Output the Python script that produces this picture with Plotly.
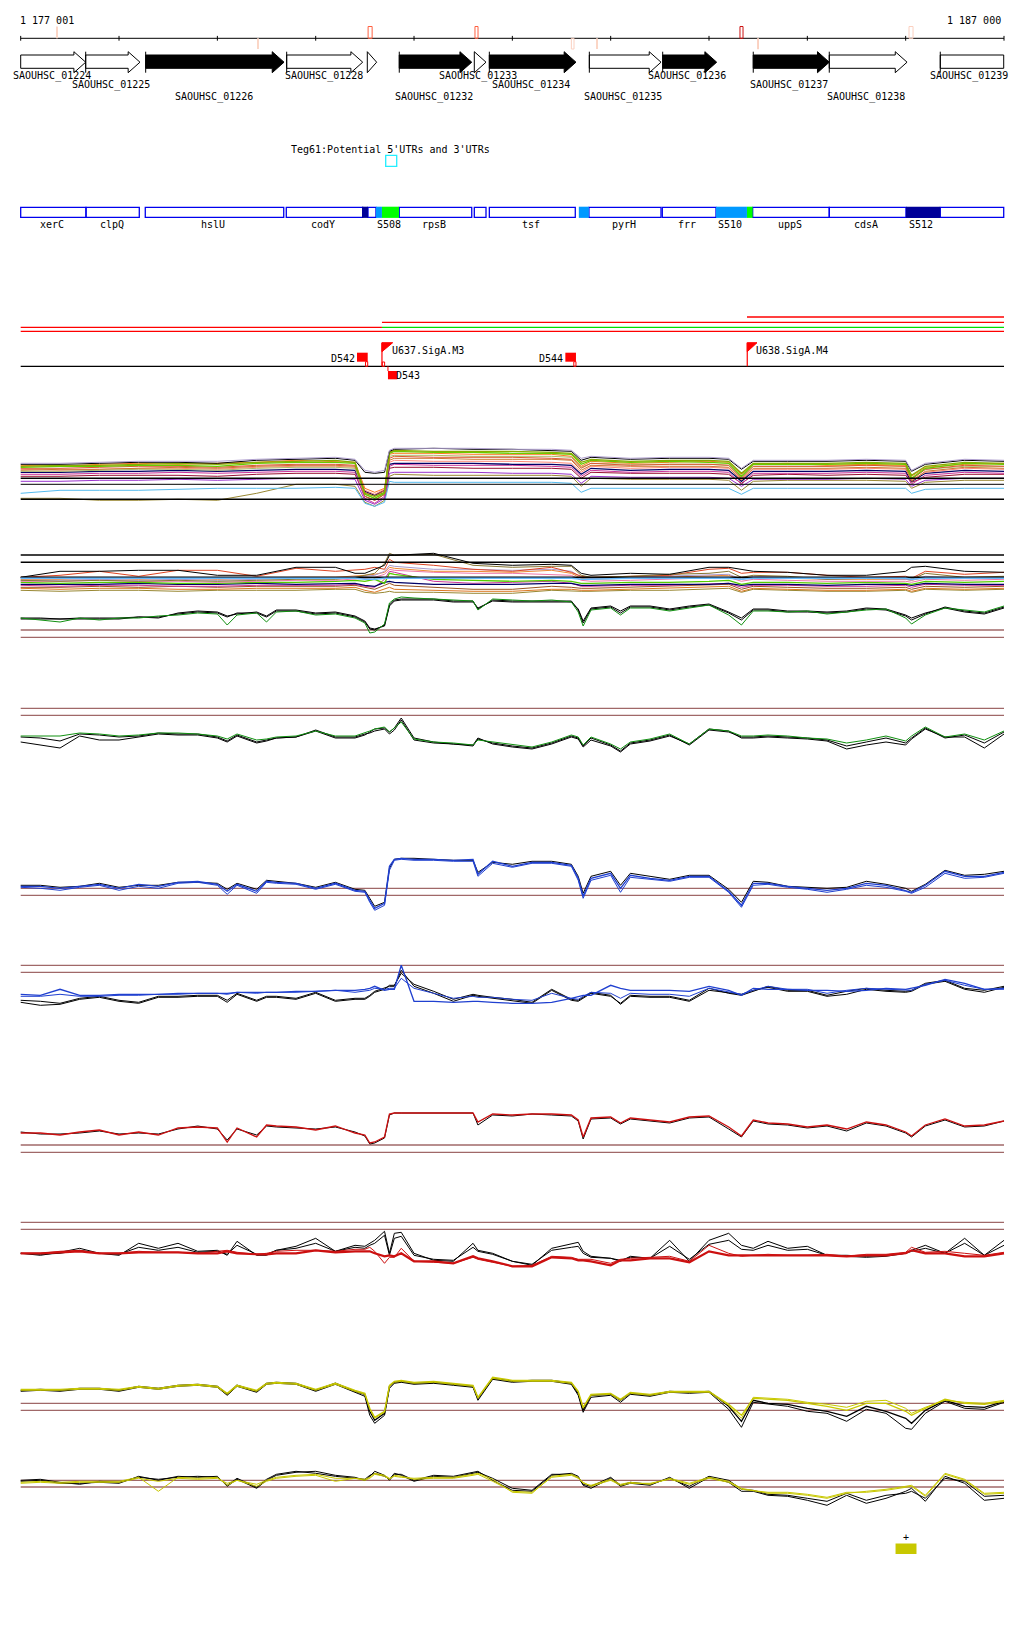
import plotly.graph_objects as go

START_BP = 1177000  # genomic origin of the window (bp); x data are kb offsets

# ---------------- scale bar ----------------
scale_left_label = "1 177 001"
scale_right_label = "1 187 000"
tick_kb = [0, 1, 2, 3, 4, 5, 6, 7, 8, 9, 10]
mark_start = [0.369, 2.413, 3.533, 4.620, 5.600, 5.861, 7.315, 7.494, 9.034]
mark_end = [0.369, 2.413, 3.574, 4.651, 5.627, 5.861, 7.346, 7.503, 9.075]
mark_side = ['up', 'down', 'up', 'up', 'down', 'down', 'up', 'down', 'up']
mark_color = ['#fbd6c6', '#fbd6c6', '#ff6040', '#ff6040', '#fbd0c0', '#fbd6c6', '#cc1111', '#fbd0c0', '#fbd0c0']

# ---------------- genes (arrows) ----------------
gene_label = ["SAOUHSC_01224", "SAOUHSC_01225", "SAOUHSC_01226", "SAOUHSC_01228", "",
              "SAOUHSC_01232", "SAOUHSC_01233", "SAOUHSC_01234", "SAOUHSC_01235", "SAOUHSC_01236",
              "SAOUHSC_01237", "SAOUHSC_01238", "SAOUHSC_01239"]
gene_start = [0.0, 0.661, 1.271, 2.705, 3.525, 3.850, 4.613, 4.766, 5.783, 6.529, 7.450, 8.223, 9.352]
gene_end = [0.661, 1.213, 2.678, 3.478, 3.620, 4.587, 4.732, 5.647, 6.512, 7.078, 8.223, 9.014, 9.997]
gene_filled = [False, False, True, False, False, True, False, True, False, True, True, False, False]
gene_head = [True, True, True, True, True, True, True, True, True, True, True, True, False]
gene_bar = [False, True, True, True, False, True, False, True, True, True, True, True, True]
gene_label_kb = [0.318, 0.921, 1.963, 3.081, 0, 4.208, 4.651, 5.190, 6.128, 6.779, 7.813, 8.601, 9.646]
gene_label_row = [0, 1, 2, 0, 0, 2, 0, 1, 2, 0, 1, 2, 0]

teg_label = "Teg61:Potential 5'UTRs and 3'UTRs"
teg_box = (3.712, 3.824)

# ---------------- annotation boxes ----------------
box_start = [0.0, 0.664, 1.267, 2.701, 3.532, 3.850, 4.613, 4.766, 5.779, 6.525, 7.444, 8.223, 9.352]
box_end = [0.664, 1.206, 2.675, 3.478, 3.613, 4.587, 4.732, 5.640, 6.512, 7.071, 8.223, 9.003, 9.997]
fill_start = [3.471, 3.613, 3.674, 5.676, 7.071, 7.386, 9.003]
fill_end = [3.532, 3.674, 3.847, 5.778, 7.386, 7.444, 9.352]
fill_color = ['#000099', '#0099ff', '#00ff00', '#0099ff', '#0099ff', '#00ff00', '#000099']
box_labels = ['xerC', 'clpQ', 'hslU', 'codY', 'S508', 'rpsB', 'tsf', 'pyrH', 'frr', 'S510', 'uppS', 'cdsA', 'S512']
box_label_kb = [0.321, 0.925, 1.959, 3.071, 3.748, 4.206, 5.190, 6.132, 6.776, 7.217, 7.821, 8.600, 9.159]

# ---------------- transcription units ----------------
tu_start = [7.386, 3.674, 0.0, 3.674, 0.0]
tu_end = [10.0, 10.0, 3.674, 10.0, 10.0]
tu_row = [0, 1, 2, 2, 3]
tu_color = ['#ff0000', '#ff0000', '#ff0000', '#00dd00', '#ff0000']

# ---------------- promoters / terminators ----------------
term_names = ['D542', 'D544', 'D543']
term_start = [3.420, 5.539, 3.735]
term_end = [3.529, 5.647, 3.830]
term_side = ['up', 'up', 'down']
prom_names = ['U637.SigA.M3', 'U638.SigA.M4']
prom_kb = [3.674, 7.389]
prom_flag_end = [3.783, 7.488]

# ---------------- signal tracks (values on grid G, kb) ----------------
G = [0, 0.2, 0.4, 0.6, 0.8, 1.0, 1.2, 1.4, 1.6, 1.8, 2.0, 2.1, 2.2, 2.4, 2.5, 2.6, 2.8, 3.0, 3.2, 3.4,
     3.5, 3.55, 3.6, 3.7, 3.75, 3.8, 3.87, 4.0, 4.2, 4.4, 4.6, 4.65, 4.8, 5.0, 5.2, 5.4, 5.6, 5.67, 5.72, 5.8,
     6.0, 6.1, 6.2, 6.4, 6.6, 6.8, 7.0, 7.2, 7.33, 7.45, 7.6, 7.8, 8.0, 8.2, 8.4, 8.6, 8.8, 9.0, 9.06, 9.2,
     9.4, 9.6, 9.8, 10.0]

k2 = [11,11,11,11,11, 11,13,13,16,18, 17,13,17,17,13, 19,19,16,17,13, 8,1,0,5,25, 30,31,31,31,29, 29,21,30,29,29, 29,29,20,7,21, 23,17,23,23,20, 23,25,17,10,20, 20,18,18,17,18, 21,20,14,10,16, 23,19,17,23]
k2b = [12,12,11,12,12, 12,13,12,17,19, 18,14,16,18,14, 20,20,17,18,14, 9,2,1,4,24, 29,30,30,30,28, 28,22,29,28,28, 28,28,21,9,22, 24,19,24,24,21, 24,26,18,12,21, 21,19,19,18,19, 22,21,15,12,17, 22,18,16,22]
g2 = [12,10,8,12,10, 12,12,14,15,17, 16,5,15,17,8, 18,19,15,16,12, 7,-3,-2,6,27, 31,33,32,31,30, 29,20,31,30,29, 30,28,18,4,20, 22,15,22,22,19, 22,25,15,5,19, 19,18,19,16,18, 20,21,12,6,15, 22,20,18,24]

k3 = [-7,-8,-11,-4,-5, -7,-6,-3,-4,-4, -7,-11,-5,-12,-10, -8,-7,0,-7,-7, -4,-3,-1,1,-4, 0,10,-10,-13,-14, -16,-9,-13,-16,-18, -13,-6,-8,-16,-8, -15,-21,-13,-10,-5, -15,0,-2,-7,-7, -6,-7,-8,-10,-16, -12,-8,-13,-8,2, -8,-5,-13,-2]
k3b = [-12,-15,-18,-6,-10, -10,-7,-4,-5,-5, -8,-12,-6,-13,-11, -8,-7,-1,-8,-8, -5,-2,1,2,-2, 2,12,-8,-12,-14, -15,-8,-14,-17,-19, -14,-7,-9,-17,-10, -16,-22,-14,-11,-6, -14,1,-1,-8,-8, -7,-8,-9,-11,-19, -15,-12,-15,-9,1, -7,-7,-18,-4]
g3 = [-6,-6,-6,-3,-4, -6,-5,-3,-3,-4, -6,-9,-4,-10,-9, -7,-6,-1,-6,-6, -3,-1,1,3,-2, 2,8,-9,-12,-13, -15,-10,-12,-15,-17, -12,-5,-7,-15,-7, -14,-19,-12,-9,-4, -14,1,-1,-6,-6, -5,-6,-8,-9,-13, -10,-6,-11,-6,3, -7,-4,-10,-1]

b4 = [2,2,0,2,4, 0,4,2,6,7, 4,-3,4,-3,7, 6,5,0,5,-2, -3,-12,-20,-15,22, 29,30,29,29,28, 29,14,27,22,26, 26,23,10,-8,10, 15,0,13,10,8, 12,12,-3,-17,5, 5,2,0,-2,0, 5,3,-2,-4,3, 17,12,12,16]
k4 = [3,3,1,2,5, 1,3,3,6,6, 5,-1,5,-1,8, 7,5,1,6,-1, -2,-10,-18,-14,20, 29,30,30,29,28, 28,16,26,24,27, 27,24,12,-5,12, 17,3,15,12,9, 13,13,-1,-14,7, 6,2,1,0,1, 7,4,0,-3,4, 18,13,14,17]
b4b = [1,0,-2,1,3, -2,2,0,5,6, 3,-6,3,-5,6, 5,4,-1,4,-3, -4,-14,-22,-17,18, 28,29,28,28,27, 27,12,25,21,25, 25,22,8,-10,8, 13,-4,11,9,7, 11,11,-4,-19,3, 4,1,-1,-4,-1, 3,1,-3,-5,1, 15,10,11,15]

k5 = [-7,-8,-10,-5,-3, -7,-9,-3,-3,-2, -2,-7,0,-7,-3, -3,-5,1,-7,-5, -5,-2,2,5,7, 7,23,7,0,-8, -2,-3,-5,-7,-10, 3,-7,-8,-5,0, -3,-10,-2,-3,-3, -7,5,0,-2,2, 7,3,3,-2,2, 5,3,2,3,10, 13,5,3,7]
k5b = [-9,-12,-11,-6,-4, -8,-10,-4,-4,-3, -3,-9,-1,-8,-4, -4,-6,0,-8,-6, -6,-3,1,4,8, 8,20,9,2,-6, -1,-2,-4,-6,-9, 4,-6,-7,-4,1, -2,-11,-3,-4,-4, -8,3,1,-1,3, 6,2,2,-3,-1, 4,2,1,2,9, 12,4,1,6]
b5a = [-1,-2,4,-2,-2, -1,-1,-1,0,0, 0,0,1,1,1, 1,2,2,3,3, 4,5,7,3,4, 4,28,-8,-8,-9, -8,-8,-9,-10,-10, -9,-5,-3,-2,-2, 8,5,3,3,3, 2,7,3,-2,5, 4,4,3,3,2, 3,5,4,5,8, 14,10,4,5]
b5b = [-3,-3,-1,-3,-3, -2,-2,-1,-1,0, 0,-1,1,0,1, 1,1,2,3,1, 2,3,5,4,5, 5,15,5,0,-5, -3,-4,-4,-6,-7, 0,-5,-6,-3,1, 0,-5,0,-1,-1, -3,5,1,-1,3, 7,4,4,0,3, 5,4,3,3,9, 13,8,4,4]

r6 = [12,12,10,13,15, 10,13,10,17,18, 17,3,17,8,20, 19,18,15,19,12, 10,2,3,8,31, 32,32,32,32,32, 32,23,31,30,31, 31,30,25,8,27, 28,22,27,25,23, 28,29,18,9,25, 22,21,18,20,16, 23,20,13,9,20, 26,19,20,24]
k6 = [13,11,11,12,14, 11,12,11,16,19, 16,5,16,10,19, 18,17,16,18,13, 9,1,2,7,30, 32,32,32,32,32, 32,20,30,29,31, 30,29,24,6,26, 27,21,26,24,22, 27,28,16,8,24, 21,20,17,19,14, 22,19,12,8,19, 25,18,19,24]

k7 = [0,-2,1,5,0, -2,10,5,10,2, 3,-2,12,-2,-2, 3,7,15,2,8, 7,10,13,22,0, 20,21,0,-7,-8, 10,3,0,-8,-12, 5,10,11,2,-3, -5,-8,-3,-5,13, -8,13,20,8,5, 12,5,7,-2,-2, -3,-2,0,3,8, 0,15,-2,13]
k7b = [0,-1,0,3,0, -1,6,3,6,1, 2,-1,8,-1,-1, 3,5,10,2,6, 5,8,10,18,-2, 15,17,-2,-6,-7, 6,2,-1,-8,-11, 3,6,7,0,-4, -5,-7,-4,-5,7, -6,9,13,4,3, 8,3,4,-2,-3, -4,-3,0,2,5, 0,10,-2,8]
r7 = [0,0,1,2,0, 0,1,1,1,0, 0,2,0,-1,-1, 0,0,3,1,2, 2,2,0,-3,-2, -3,0,-8,-8,-10, -3,-5,-8,-13,-13, -4,-5,-7,-7,-8, -12,-7,-7,-5,-5, -9,2,-2,-2,-2, -2,-2,-2,-2,-3, -2,-2,0,3,0, 0,-3,-3,0]
r7b = [0,0,2,3,0, 0,2,1,1,0, 2,3,1,-1,0, 2,3,3,2,4, 4,6,2,-10,-4, -4,5,-8,-9,-10, -4,-6,-9,-13,-12, -3,-4,-6,-6,-6, -10,-6,-5,-4,-3, -8,8,0,-3,-2, -1,-2,-2,-1,-3, -1,-1,1,6,1, 2,0,-2,1]

k8 = [13,14,13,15,15, 13,17,15,18,19, 17,9,18,12,20, 21,20,13,20,12, 9,-8,-17,-10,17, 21,22,20,21,19, 17,5,25,22,23, 23,20,10,-7,8, 9,3,10,8,12, 11,12,-3,-18,3, 0,-1,-5,-8,-13, -3,-8,-15,-20,-7, 3,-3,-4,2]
k8b = [12,13,12,14,14, 12,16,14,17,18, 16,8,17,11,19, 20,19,12,19,11, 7,-12,-20,-12,15, 20,21,19,20,18, 16,3,24,21,22, 22,19,8,-9,6, 8,1,9,7,11, 10,11,-6,-24,1, -1,-3,-8,-10,-18, -6,-10,-25,-26,-10, 2,-5,-6,1]
y8 = [14,14,14,15,15, 14,17,15,18,19, 17,10,18,13,20, 21,20,14,20,13, 10,-5,-14,-8,18, 22,23,21,22,20, 18,6,26,23,23, 23,21,12,-4,9, 10,4,11,9,12, 12,12,-1,-12,5, 4,3,0,-3,-7, 0,0,-8,-12,-5, 4,0,-1,2]
y8b = [13,13,13,14,14, 13,16,14,17,18, 16,9,17,12,19, 20,19,13,19,12, 9,-6,-15,-9,17, 21,22,20,21,19, 17,5,25,22,22, 22,20,11,-5,8, 9,3,10,8,11, 11,11,-2,-15,6, 5,4,1,-1,-4, 2,3,-5,-10,-4, 3,1,0,3]

k9 = [2,3,0,0,1, 0,7,3,7,6, 7,-3,4,-5,3, 8,11,12,8,6, 3,7,12,8,3, 9,9,3,8,7, 11,12,3,-7,-8, 8,10,7,-2,-5, 5,-3,0,-2,6, -5,6,1,-8,-8, -12,-13,-17,-22,-12, -20,-15,-8,-5,-18, 7,0,-17,-15]
k9b = [3,4,1,-1,2, 1,6,4,6,7, 6,-2,5,-4,4, 9,12,10,7,5, 4,8,10,7,4, 10,8,2,7,6, 10,11,5,-5,-7, 9,9,6,-1,-3, 6,-2,1,-1,5, -3,7,3,-6,-7, -11,-12,-15,-18,-10, -17,-12,-10,-8,-15, 5,2,-13,-12]
y9 = [1,2,1,2,2, 2,6,-8,6,5, 6,-2,3,-3,2, 5,7,8,2,5, 4,6,10,8,5, 7,6,5,6,6, 9,10,4,-9,-10, 7,9,6,0,-2, 4,-1,1,-1,5, 0,6,2,-5,-7, -10,-10,-12,-15,-10, -8,-6,-3,-2,-12, 10,4,-10,-9]
y9b = [0,1,0,1,1, 1,5,2,5,4, 5,0,3,-1,3, 6,8,9,5,5, 3,5,9,7,4, 8,7,4,5,5, 8,9,2,-8,-9, 6,8,5,1,-3, 3,-2,0,0,4, -1,5,1,-6,-7, -9,-9,-11,-14,-9, -9,-7,-4,-3,-13, 9,3,-11,-10]

# ---------------- multi-sample tracks (values on grid M, kb) ----------------
M = [0, 0.4, 0.8, 1.2, 1.6, 2.0, 2.4, 2.8, 3.2, 3.4, 3.5, 3.6, 3.7, 3.75, 3.8, 4.2, 4.6, 5.0, 5.4, 5.6,
     5.7, 5.8, 6.2, 6.6, 7.0, 7.2, 7.33, 7.45, 7.8, 8.2, 8.6, 9.0, 9.06, 9.2, 9.6, 10.0]

m1_lavender = [15,15,16,17,17, 17,19,20,21,19, 8,6,8,28,30, 30,30,29,29,28, 20,22,20,21,21, 20,10,18,18,18, 19,18,8,15,19, 18]
m1_black = [14,14,15,16,16, 15,18,19,20,18, 6,5,6,27,29, 30,29,29,28,27, 18,21,19,20,20, 19,9,17,17,17, 18,17,7,14,18, 17]
m1_olive = [12,13,13,14,15, 14,16,17,18,16, -15,-18,-14,26,28, 27,27,27,26,25, 16,19,17,18,18, 17,5,15,15,15, 16,15,3,12,16, 15]
m1_green = [11,12,12,13,13, 12,15,16,16,15, -16,-20,-15,25,27, 26,26,25,25,24, 14,18,16,17,16, 15,2,14,14,14, 15,14,0,10,15, 14]
m1_orange = [13,12,14,15,14, 15,16,18,17,16, -10,-14,-10,24,25, 25,24,24,24,22, 12,17,15,16,17, 16,4,14,15,13, 14,13,2,11,14, 15]
m1_redorange = [10,10,11,12,12, 11,13,14,14,13, -14,-18,-12,20,22, 21,21,21,20,19, 10,15,13,14,14, 13,0,12,12,12, 13,12,-1,9,13, 12]
m1_brownorange = [8,9,9,10,11, 10,12,13,13,12, -18,-22,-16,18,20, 20,19,19,19,18, 8,13,12,12,12, 11,-2,10,10,10, 11,10,-3,7,11, 10]
m1_salmon = [9,8,9,10,10, 9,11,12,12,11, -12,-16,-11,16,18, 17,17,17,16,15, 6,12,10,11,11, 10,-1,9,9,9, 10,9,-2,6,10, 9]
m1_magenta = [4,4,5,5,6, 5,6,7,7,6, -20,-25,-18,12,14, 13,13,13,12,11, 2,8,6,7,7, 6,-6,5,5,5, 6,5,-6,3,6, 5]
m1_darkred = [2,2,3,3,3, 2,4,5,5,4, -18,-22,-16,10,11, 11,10,10,10,9, 0,6,5,5,5, 4,-5,3,4,3, 4,3,-4,1,4, 4]
m1_navy = [6,6,7,7,8, 7,8,9,9,8, -13,-17,-12,14,15, 15,15,14,14,13, 4,10,8,9,9, 8,-3,7,7,7, 8,7,-3,5,8, 7]
m1_purple = [-3,-3,-2,-2,-1, -2,-1,0,0,-1, -22,-26,-20,5,6, 6,6,5,5,4, -5,2,1,1,1, 0,-8,-1,-1,-1, 0,-1,-8,-2,0, 0]
m1_lightblue = [-15,-12,-12,-12,-11, -10,-10,-10,-9,-10, -25,-28,-24,-3,-4, -4,-4,-4,-4,-5, -14,-10,-10,-10,-10, -10,-16,-10,-10,-10, -10,-10,-15,-11,-10, -10]
m1_olivebrown = [-20,-20,-22,-22,-21, -22,-15,-6,-6,-8, -24,-28,-22,2,4, 3,3,3,3,2, -8,0,-1,-1,-1, -2,-12,-3,-2,-2, -2,-3,-10,-4,-2, -2]
m1_graygreen = [7,7,8,9,9, 8,10,11,11,10, -16,-20,-14,22,23, 23,22,22,22,21, 11,15,14,14,14, 13,1,12,12,12, 13,12,-1,9,12, 12]
m1_ref_levels = [0, -6, -21]

m2_black = [0,6,6,7,7, 2,2,10,10,4, 4,8,12,22,22, 24,14,12,13,12, 4,2,4,3,10, 10,8,6,5,2, 2,6,10,11,6, 5]
m2_olive = [-3,-4,-3,-4,-3, -4,-3,-2,-2,0, 2,4,14,24,22, 23,12,10,11,11, 2,0,1,3,4, 6,0,2,1,-2, -1,-1,-2,4,0, 1]
m2_redorange = [0,2,6,1,7, 7,1,9,6,7, 8,10,8,18,15, 12,8,6,10,5, 1,0,1,2,8, 9,4,5,5,2, 0,1,-1,6,3, 5]
m2_orange = [-2,-2,-1,-2,-1, -2,-1,0,0,1, 2,3,5,10,9, 6,6,5,7,4, -1,-2,-1,0,1, 2,-2,0,-1,-2, -2,-2,-3,0,-1, 0]
m2_pink = [-4,-4,-3,-4,-4, -5,-4,-3,-3,-2, -1,0,3,8,7, 5,4,4,3,2, -3,-4,-3,-2,-1, 0,-4,-2,-3,-4, -4,-4,-5,-2,-3, -2]
m2_green = [-5,-6,-5,-5,-6, -6,-5,-5,-4,-3, -4,-2,-6,4,3, -2,-3,-4,-3,-4, -6,-6,-5,-5,-4, -3,-7,-5,-5,-6, -5,-6,-7,-4,-5, -4]
m2_navy = [-7,-7,-7,-6,-7, -7,-6,-7,-6,-6, -8,-9,-5,-4,-5, -7,-7,-7,-6,-6, -8,-8,-7,-7,-7, -6,-8,-7,-7,-8, -7,-7,-8,-6,-7, -7]
m2_lightblue = [-1,-1,-1,-1,-1, -1,-1,-1,-1,-1, -2,-2,-1,-1,-1, -1,-1,-1,-1,-1, -2,-2,-1,-1,-1, -1,-2,-1,-1,-1, -1,-1,-2,-1,-1, -1]
m2_magenta = [-8,-9,-8,-8,-9, -9,-8,-8,-8,-7, -9,-10,-2,6,5, -4,-6,-5,-4,-6, -9,-9,-8,-8,-7, -6,-10,-8,-8,-9, -9,-8,-10,-7,-8, -8]
m2_brown = [-10,-10,-9,-10,-9, -10,-9,-9,-9,-8, -10,-12,-8,-6,-8, -10,-12,-12,-9,-10, -11,-11,-10,-9,-8, -7,-12,-9,-10,-11, -11,-10,-12,-9,-10, -9]
m2_orangebottom = [-11,-12,-11,-11,-12, -12,-11,-11,-11,-10, -13,-15,-12,-10,-12, -13,-14,-14,-12,-12, -13,-13,-12,-11,-10, -9,-14,-11,-12,-13, -13,-12,-14,-11,-12, -11]
m2_olivebottom = [-13,-14,-13,-13,-14, -13,-13,-13,-12,-12, -15,-16,-15,-14,-15, -15,-16,-16,-13,-14, -14,-14,-13,-13,-12, -11,-15,-12,-13,-14, -14,-13,-15,-12,-13, -12]
m2_lavender = [-3,-3,-2,-3,-2, -3,-2,-1,-1,0, 1,2,6,12,11, 8,8,7,8,6, 0,-1,0,1,2, 3,-2,1,0,-2, -1,-2,-3,1,-1, 0]
m2_ref_levels = [22.3, 15, 0]

brown_levels = {
    't2': [0, -7.3], 't3': [21.7, 14.7], 't4': [0, -7], 't5': [28, 21],
    't6': [0, -7.3], 't7': [31, 24], 't8': [0, -7], 't9': [3, -3.7],
}

strand_mark = "+"
strand_box = (8.897, 9.110)

# ======================= layout / style (positions in page-pixel rows) =======================
H = 1640
PAGE_OFF = 8.0   # the html page body margin: the figure starts 8 px in from the page corner
PX_PER_KB = 98.33
AXIS_LEFT_PX = 20.7
ROW = dict(scale_label=20.7, axis=38.3, tick=2.4, up_top=26.5, down_bot=49.0,
           g_ht=51.7, g_bt=55.0, g_mid=62.2, g_bb=68.3, g_hb=72.7, g_lab=[76.0, 85.0, 97.3],
           teg_lab=149.0, teg_t=155.3, teg_b=166.3,
           box_t=207.3, box_b=217.3, box_lab=224.3,
           tu=[317.0, 322.3, 327.3, 331.3],
           feat=366.3, term_t=352.7, term_b=361.7, term_lab=358.0,
           flag_t=342.7, flag_b=351.7, prom_lab=350.3,
           dterm_t=371.0, dterm_b=379.3, dterm_lab=375.7,
           plus=1537.0, sbox_t=1543.5, sbox_b=1554.0)
TRACK_REF = dict(m1=478.3, m2=577.3, t2=630.0, t3=730.0, t4=888.3, t5=993.3,
                 t6=1145.0, t7=1253.3, t8=1403.3, t9=1483.3)
HEAD_KB = 0.12
FONT = 'DejaVu Sans Mono'
BROWN = '#a06868'
GREEN = '#109010'
BLUE = '#2040d0'
RED = '#cc1010'
YELLOW = '#c8c800'


def X(kb):
    return START_BP + 1000.0 * kb


def XL(lst):
    return [X(k) for k in lst]


fig = go.Figure()
shapes = []
annotations = []


def hline(x0, x1, y, color, width=1):
    shapes.append(dict(type='line', xref='x', yref='y', x0=X(x0), x1=X(x1), y0=y, y1=y,
                       line=dict(color=color, width=width)))


def vline(x, y0, y1, color, width=1):
    shapes.append(dict(type='line', xref='x', yref='y', x0=X(x), x1=X(x), y0=y0, y1=y1,
                       line=dict(color=color, width=width)))


def rect(x0, x1, y0, y1, line_color=None, fill=None, width=1):
    shapes.append(dict(type='rect', xref='x', yref='y', x0=X(x0), x1=X(x1), y0=y0, y1=y1,
                       line=dict(color=line_color if line_color else 'rgba(0,0,0,0)',
                                 width=width if line_color else 0),
                       fillcolor=fill if fill else 'rgba(0,0,0,0)'))


def text(kb, y, s, anchor='center', size=10, color='#000000', xshift=0):
    annotations.append(dict(x=X(kb), y=y, xref='x', yref='y', text=s, showarrow=False,
                            xanchor=anchor, yanchor='middle', xshift=xshift,
                            font=dict(family=FONT, size=size, color=color)))


def poly(xs, ys, fill, line_color='#000000', yaxis='y'):
    fig.add_trace(go.Scatter(x=XL(xs), y=ys, mode='lines', fill='toself', fillcolor=fill,
                             line=dict(color=line_color, width=1), yaxis=yaxis, hoverinfo='skip'))


# ---------- scale bar ----------
text(0, ROW['scale_label'], scale_left_label, anchor='left', xshift=-3)
text(10, ROW['scale_label'], scale_right_label, anchor='right', xshift=-1)
hline(tick_kb[0], tick_kb[-1], ROW['axis'], '#000000', 1)
for t in tick_kb:
    vline(t, ROW['axis'] - ROW['tick'], ROW['axis'] + ROW['tick'], '#000000', 1)
for s, e, side, c in zip(mark_start, mark_end, mark_side, mark_color):
    y0, y1 = (ROW['up_top'], ROW['axis']) if side == 'up' else (ROW['axis'], ROW['down_bot'])
    if e - s < 0.005:
        vline(s, y0, y1, c, 2)
    else:
        rect(s, e, y0, y1, line_color=c, width=1)

# ---------- gene arrows ----------
for i in range(len(gene_start)):
    s, e = gene_start[i], gene_end[i]
    fillc = '#000000' if gene_filled[i] else '#ffffff'
    if not gene_head[i]:
        xs = [s, e, e, s, s]
        ys = [ROW['g_bt'], ROW['g_bt'], ROW['g_bb'], ROW['g_bb'], ROW['g_bt']]
    elif e - s <= HEAD_KB * 1.05:
        xs = [s, e, s, s]
        ys = [ROW['g_ht'], ROW['g_mid'], ROW['g_hb'], ROW['g_ht']]
    else:
        hs = e - HEAD_KB
        xs = [s, hs, hs, e, hs, hs, s, s]
        ys = [ROW['g_bt'], ROW['g_bt'], ROW['g_ht'], ROW['g_mid'], ROW['g_hb'], ROW['g_bb'], ROW['g_bb'], ROW['g_bt']]
    poly(xs, ys, fillc)
    if gene_bar[i]:
        vline(s, ROW['g_ht'], ROW['g_hb'], '#000000', 1)
    if gene_label[i]:
        text(gene_label_kb[i], ROW['g_lab'][gene_label_row[i]], gene_label[i])

# ---------- Teg61 ----------
text(2.749, ROW['teg_lab'], teg_label, anchor='left', xshift=-2)
rect(teg_box[0], teg_box[1], ROW['teg_t'], ROW['teg_b'], line_color='#22eeff', width=1.3)

# ---------- annotation boxes ----------
for s, e in zip(box_start, box_end):
    rect(s, e, ROW['box_t'], ROW['box_b'], line_color='#0000ee', width=1.3)
for s, e, c in zip(fill_start, fill_end, fill_color):
    rect(s, e, ROW['box_t'] - 0.6, ROW['box_b'] + 0.6, fill=c)
for lab, k in zip(box_labels, box_label_kb):
    text(k, ROW['box_lab'], lab)

# ---------- transcription units ----------
for s, e, r, c in zip(tu_start, tu_end, tu_row, tu_color):
    hline(s, e, ROW['tu'][r], c, 1.3)

# ---------- promoters / terminators ----------
hline(0, 10, ROW['feat'], '#000000', 1.3)
for name, s, e, side in zip(term_names, term_start, term_end, term_side):
    if side == 'up':
        rect(s, e, ROW['term_t'], ROW['term_b'], fill='#ff0000')
        rect(e - 0.022, e, ROW['term_b'], ROW['feat'], line_color='#ff0000', width=1)
        text(s, ROW['term_lab'], name, anchor='right', xshift=0)
    else:
        vline(s, ROW['feat'], ROW['dterm_t'], '#ff0000', 1)
        rect(s, e, ROW['dterm_t'], ROW['dterm_b'], fill='#ff0000')
        text(e, ROW['dterm_lab'], name, anchor='left', xshift=-3)
for name, p, f in zip(prom_names, prom_kb, prom_flag_end):
    vline(p, ROW['flag_t'], ROW['feat'], '#ff0000', 1.2)
    poly([p, f, p, p], [ROW['flag_t'], ROW['flag_t'], ROW['flag_b'], ROW['flag_t']], '#ff0000', '#ff0000')
    text(f, ROW['prom_lab'], name, anchor='left', xshift=-3)
rect(prom_kb[0] + 0.003, prom_kb[0] + 0.027, 362.0, ROW['feat'], line_color='#ff0000', width=1)

# ---------- signal tracks (one overlaying axis per track) ----------
axis_defs = {}
axis_id = [2]


def new_axis(ref):
    n = axis_id[0]
    axis_id[0] += 1
    axis_defs['yaxis%d' % n] = dict(overlaying='y', range=[ref - H - PAGE_OFF, ref - PAGE_OFF],
                                    visible=False, fixedrange=True)
    return 'y%d' % n


def add_lines(ax, grid, series):
    for vals, color, w in series:
        fig.add_trace(go.Scatter(x=XL(grid), y=vals, mode='lines', yaxis=ax, hoverinfo='skip',
                                 line=dict(color=color, width=w)))


def add_refs(ax, levels, color, widths):
    for lv, w in zip(levels, widths):
        fig.add_trace(go.Scatter(x=XL([0, 10]), y=[lv, lv], mode='lines', yaxis=ax, hoverinfo='skip',
                                 line=dict(color=color, width=w)))


ax = new_axis(TRACK_REF['m1'])
add_lines(ax, M, [(m1_olivebrown, '#998833', 1), (m1_lightblue, '#55bbee', 1), (m1_purple, '#9933cc', 1),
                  (m1_darkred, '#991133', 1), (m1_magenta, '#cc3399', 1), (m1_navy, '#000066', 1.3),
                  (m1_salmon, '#ff8877', 1), (m1_brownorange, '#cc7733', 1), (m1_graygreen, '#aabb66', 1),
                  (m1_redorange, '#dd5533', 1), (m1_orange, '#ff7722', 1), (m1_green, '#66cc00', 1.3),
                  (m1_olive, '#88aa00', 1.3), (m1_black, '#000000', 1), (m1_lavender, '#b0a0d0', 1)])
add_refs(ax, m1_ref_levels, '#000000', [1.5, 1, 1.5])

ax = new_axis(TRACK_REF['m2'])
add_lines(ax, M, [(m2_olivebottom, '#998833', 1), (m2_orangebottom, '#dd7722', 1), (m2_brown, '#995522', 1),
                  (m2_magenta, '#cc3399', 1), (m2_navy, '#000066', 1.3), (m2_green, '#55cc00', 1.3),
                  (m2_pink, '#ee77aa', 1), (m2_orange, '#ee8833', 1), (m2_lavender, '#aa99cc', 1),
                  (m2_redorange, '#dd4422', 1), (m2_olive, '#887733', 1), (m2_black, '#000000', 1)])
add_refs(ax, m2_ref_levels, '#000000', [1.5, 1.5, 1.8])
add_lines(ax, M, [(m2_lightblue, '#66bbff', 1.5)])

track_series = [
    ('t2', [(k2, '#000000', 1), (k2b, '#000000', 1), (g2, GREEN, 1)]),
    ('t3', [(k3, '#000000', 1), (k3b, '#000000', 1), (g3, GREEN, 1)]),
    ('t4', [(k4, '#000000', 1), (b4b, BLUE, 1), (b4, BLUE, 1.3)]),
    ('t5', [(k5, '#000000', 1), (k5b, '#000000', 1), (b5b, BLUE, 1), (b5a, BLUE, 1.3)]),
    ('t6', [(k6, '#000000', 1), (r6, RED, 1.3)]),
    ('t7', [(k7, '#000000', 1), (k7b, '#000000', 1), (r7b, RED, 1), (r7, RED, 2.2)]),
    ('t8', [(k8, '#000000', 1.3), (k8b, '#000000', 1), (y8b, YELLOW, 1), (y8, YELLOW, 1.3)]),
    ('t9', [(k9, '#000000', 1), (k9b, '#000000', 1), (y9b, YELLOW, 1), (y9, YELLOW, 1)]),
]
for key, series in track_series:
    ax = new_axis(TRACK_REF[key])
    add_refs(ax, brown_levels[key], BROWN, [1.3, 1.3])
    add_lines(ax, G, series)

# ---------- strand marker ----------
text(strand_box[0] + (strand_box[1] - strand_box[0]) / 2, ROW['plus'], strand_mark, size=10)
rect(strand_box[0], strand_box[1], ROW['sbox_t'], ROW['sbox_b'], fill=YELLOW)

# x range: figure pixel 0 sits at page pixel PAGE_OFF
kb_left = (PAGE_OFF - AXIS_LEFT_PX) / PX_PER_KB
kb_right = (PAGE_OFF + 1024 - AXIS_LEFT_PX) / PX_PER_KB

fig.update_layout(
    width=1024, height=H, margin=dict(l=0, r=0, t=0, b=0),
    paper_bgcolor='#ffffff', plot_bgcolor='#ffffff', showlegend=False,
    xaxis=dict(range=[X(kb_left), X(kb_right)], visible=False, fixedrange=True),
    yaxis=dict(range=[H + PAGE_OFF, PAGE_OFF], visible=False, fixedrange=True, domain=[0, 1]),
    shapes=shapes, annotations=annotations,
    **axis_defs,
)
fig.write_html("out.html")
